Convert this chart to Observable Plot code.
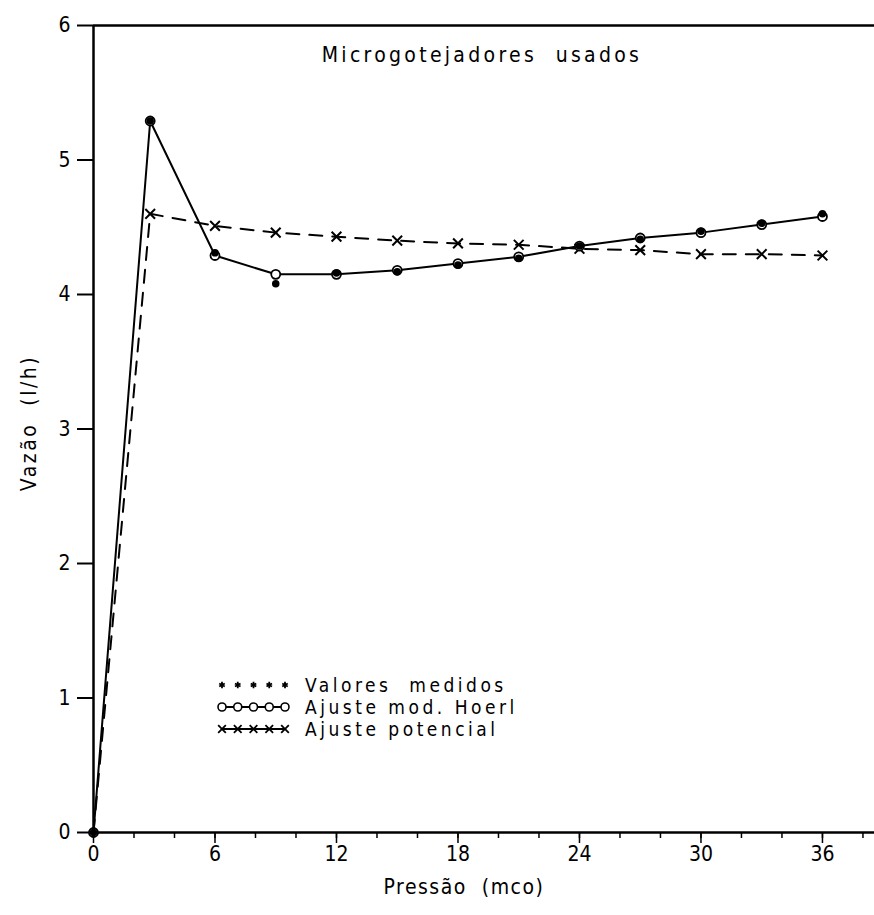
<!DOCTYPE html>
<html>
<head>
<meta charset="utf-8">
<script src="https://cdn.jsdelivr.net/npm/d3@7"></script>
<script src="https://cdn.jsdelivr.net/npm/@observablehq/plot@0.6"></script>
<style>
  body { margin: 0; background: #fff; }
  #chart svg text { white-space: pre; }
</style>
</head>
<body>
<div id="chart"></div>
<script>
// ---- data ----
const pressure = [0, 2.8, 6, 9, 12, 15, 18, 21, 24, 27, 30, 33, 36];
const measured = [0, 5.29, 4.31, 4.08, 4.16, 4.17, 4.22, 4.27, 4.36, 4.41, 4.47, 4.53, 4.60];
const hoerl    = [0, 5.29, 4.29, 4.15, 4.15, 4.18, 4.23, 4.28, 4.36, 4.42, 4.46, 4.52, 4.58];
const power    = [0, 4.60, 4.51, 4.46, 4.43, 4.40, 4.38, 4.37, 4.34, 4.33, 4.30, 4.30, 4.29];
const xTicks = [0, 6, 12, 18, 24, 30, 36];
const xMinorTicks = [0, 2, 4, 6, 8, 10, 12, 14, 16, 18, 20, 22, 24, 26, 28, 30, 32, 34, 36, 38];
const yTicks = [0, 1, 2, 3, 4, 5, 6];
const titleText = "Microgotejadores  usados";
const xLabel = "Pressão  (mco)";
const yLabel = "Vazão  (l/h)";
const legendLabels = ["Valores  medidos", "Ajuste mod. Hoerl", "Ajuste potencial"];

const FONT = "'DejaVu Sans Condensed','DejaVu Sans',sans-serif";

const mData = pressure.map((x, i) => ({x, y: measured[i]}));
const hData = pressure.map((x, i) => ({x, y: hoerl[i]}));
const pData = pressure.map((x, i) => ({x, y: power[i]}));

const chart = Plot.plot({
  width: 874,
  height: 915,
  marginTop: 25,
  marginBottom: 83,
  marginLeft: 93,
  marginRight: 0,
  style: {fontFamily: FONT, fontSize: "20px", color: "#000", background: "#fff", overflow: "visible"},
  x: {domain: [0, 38.57]},
  y: {domain: [0, 6]},
  marks: [
    Plot.axisX({ticks: xMinorTicks, tickSize: 6, tickFormat: () => "", label: null, strokeWidth: 1.5}),
    Plot.axisX({ticks: xTicks, tickSize: 11, tickPadding: 3, tickFormat: "d", label: null, fontSize: 21, strokeWidth: 1.5}),
    Plot.axisY({ticks: yTicks, tickSize: 16, tickPadding: 7, tickFormat: "d", label: null, fontSize: 21, strokeWidth: 2}),
    Plot.ruleY([0], {strokeWidth: 2.5}),
    Plot.ruleY([6], {strokeWidth: 2.5}),
    Plot.ruleX([0], {strokeWidth: 2.5}),
    Plot.text([titleText], {text: d => d, frameAnchor: "top", textAnchor: "middle", dx: -2, dy: 22, fontSize: 21}),
    Plot.text([xLabel], {text: d => d, frameAnchor: "bottom", textAnchor: "middle", dx: -20, dy: 61, fontSize: 21}),
    Plot.text([yLabel], {text: d => d, frameAnchor: "left", textAnchor: "middle", dx: -64, dy: -6, rotate: -90, fontSize: 21}),
    Plot.line(pData, {x: "x", y: "y", stroke: "black", strokeWidth: 2, strokeDasharray: "13,10"}),
    Plot.line(hData, {x: "x", y: "y", stroke: "black", strokeWidth: 2}),
    Plot.dot(pData.slice(1), {x: "x", y: "y", symbol: "times", r: 4.5, stroke: "black", strokeWidth: 2}),
    Plot.dot(hData, {x: "x", y: "y", symbol: "circle", r: 4.5, stroke: "black", fill: "white", strokeWidth: 1.8}),
    Plot.dot(mData, {x: "x", y: "y", symbol: "circle", r: 3, fill: "black", stroke: "black"})
  ]
});
document.getElementById("chart").appendChild(chart);

const svg = d3.select(chart);
// letter spacing for the plotter-like lettering
svg.selectAll("text").filter(function () { return this.textContent === titleText; }).style("letter-spacing", "3.3px");
svg.selectAll("text").filter(function () { return this.textContent === xLabel; }).style("letter-spacing", "1.5px");
svg.selectAll("text").filter(function () { return this.textContent === yLabel; }).style("letter-spacing", "2.5px");

// ---- legend (inside plot area, lower left) ----
const lg = svg.append("g").attr("font-family", FONT).attr("font-size", 19).attr("text-anchor", "start");
const lx0 = 222, lx1 = 285, rowY = [685, 707, 729], textX = 305;
const mk = d3.range(5).map(i => lx0 + i * (lx1 - lx0) / 4);
// row 1: asterisks only
mk.forEach(x => lg.append("path").attr("d", d3.symbol(d3.symbolAsterisk, 28)()).attr("transform", `translate(${x},${rowY[0]})`).attr("stroke", "black").attr("stroke-width", 1.8));
// row 2: line + open circles
lg.append("line").attr("x1", lx0).attr("x2", lx1).attr("y1", rowY[1]).attr("y2", rowY[1]).attr("stroke", "black").attr("stroke-width", 1.8);
mk.forEach(x => lg.append("circle").attr("cx", x).attr("cy", rowY[1]).attr("r", 4).attr("fill", "white").attr("stroke", "black").attr("stroke-width", 1.6));
// row 3: line + times
lg.append("line").attr("x1", lx0).attr("x2", lx1).attr("y1", rowY[2]).attr("y2", rowY[2]).attr("stroke", "black").attr("stroke-width", 1.8);
mk.forEach(x => lg.append("path").attr("d", d3.symbol(d3.symbolTimes, 40)()).attr("transform", `translate(${x},${rowY[2]})`).attr("stroke", "black").attr("stroke-width", 1.8));
legendLabels.forEach((t, i) => lg.append("text").attr("x", textX).attr("y", rowY[i]).attr("dy", "0.35em").style("white-space", "pre").style("letter-spacing", "3.5px").text(t));
</script>
</body>
</html>
